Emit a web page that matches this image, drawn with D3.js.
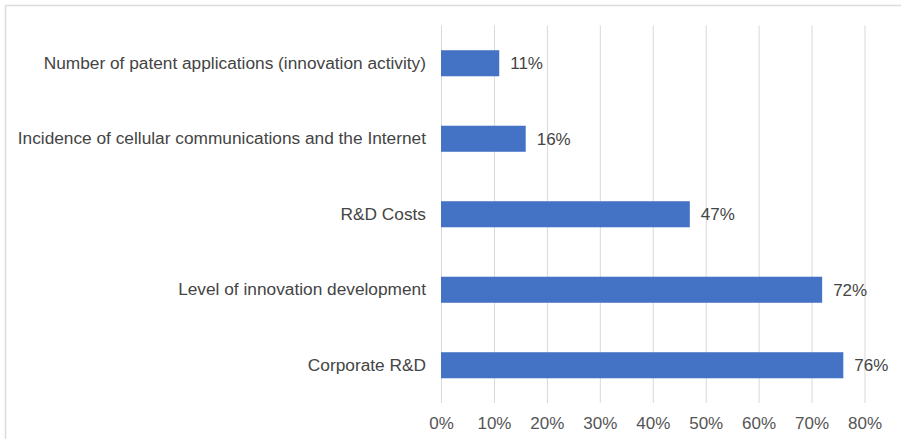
<!DOCTYPE html>
<html>
<head>
<meta charset="utf-8">
<script src="https://cdn.jsdelivr.net/npm/d3@7"></script>
<style>
  html, body { margin: 0; padding: 0; background: #fff; }
  svg { display: block; }
  text { font-family: "Liberation Sans", Arial, sans-serif; }
</style>
</head>
<body>
<svg id="chart" width="901" height="439"></svg>
<script>
// Indicators, top to bottom, and their shares (%)
const categories = [
  "Number of patent applications (innovation activity)",
  "Incidence of cellular communications and the Internet",
  "R&D Costs",
  "Level of innovation development",
  "Corporate R&D"
];
const shares = [11, 16, 47, 72, 76];
const tickValues = [0, 10, 20, 30, 40, 50, 60, 70, 80];

const svg = d3.select("#chart");
const W = 901, H = 439;
const plot = { left: 441, right: 864.5, top: 25.5, bottom: 403 };

// Light frame along the top and left edges
svg.append("path")
  .attr("d", `M5.5,${H} L5.5,5.5 L${W},5.5`)
  .attr("fill", "none")
  .attr("stroke", "#dcdcdc")
  .attr("stroke-width", 1.5);

const x = d3.scaleLinear().domain([0, 80]).range([plot.left, plot.right]);
const y = d3.scaleBand().domain(categories).range([plot.top, plot.bottom])
  .paddingInner(0.655).paddingOuter(0.3275);

// Vertical gridlines
const xAxis = d3.axisBottom(x)
  .tickValues(tickValues)
  .tickSize(plot.bottom - plot.top)
  .tickFormat(d => d + "%")
  .tickPadding(14);
const gx = svg.append("g")
  .attr("transform", `translate(0,${plot.top})`)
  .call(xAxis);
gx.select(".domain").remove();
gx.selectAll(".tick line").attr("stroke", "#d9d9d9").attr("stroke-width", 1);
gx.selectAll(".tick text")
  .attr("fill", "#555")
  .style("font-size", "17px");

// Bars
svg.append("g").selectAll("rect")
  .data(shares)
  .join("rect")
  .attr("x", x(0))
  .attr("y", (d, i) => y(categories[i]))
  .attr("width", d => x(d) - x(0))
  .attr("height", y.bandwidth())
  .attr("fill", "#4472c4");

// Value labels
svg.append("g").selectAll("text")
  .data(shares)
  .join("text")
  .attr("x", d => x(d) + 11)
  .attr("y", (d, i) => y(categories[i]) + y.bandwidth() / 2)
  .attr("dy", "0.35em")
  .attr("fill", "#444")
  .style("font-size", "17px")
  .text(d => d + "%");

// Category labels
const yAxis = d3.axisLeft(y).tickSize(0).tickPadding(15);
const gy = svg.append("g")
  .attr("transform", `translate(${plot.left},0)`)
  .call(yAxis);
gy.select(".domain").remove();
gy.selectAll(".tick text")
  .attr("fill", "#444")
  .style("font-size", "17.3px");
</script>
</body>
</html>
